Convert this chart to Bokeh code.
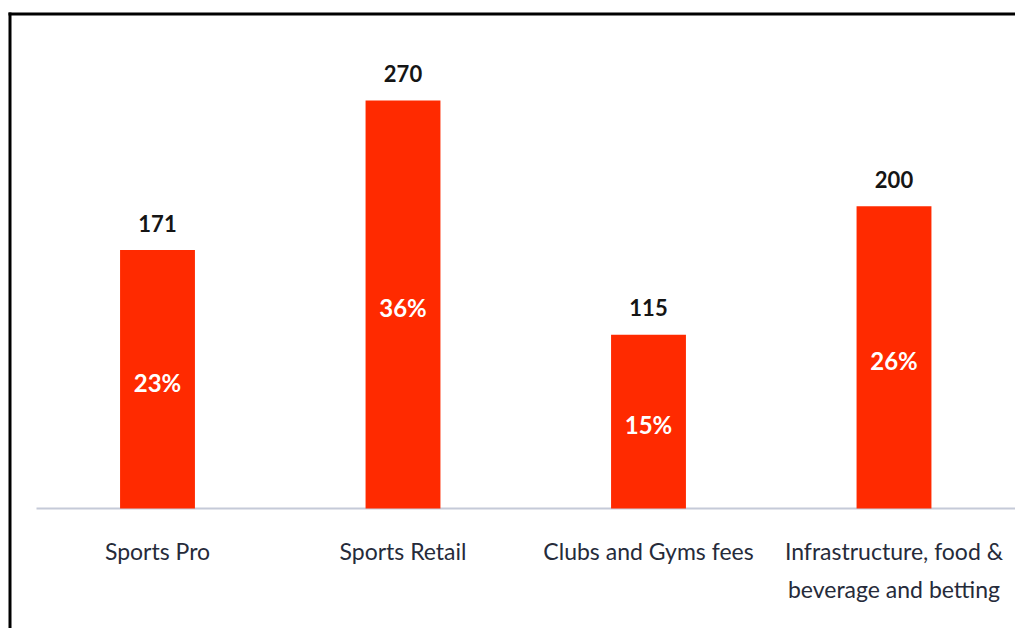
import numpy as np
from bokeh.plotting import figure
from bokeh.models import ColumnDataSource, Range1d
from bokeh.core.properties import value
from bokeh.embed import file_html
from bokeh.resources import INLINE

categories = ["Sports Pro", "Sports Retail", "Clubs and Gyms fees",
              "Infrastructure, food &\nbeverage and betting"]
values = [171, 270, 115, 200]
shares = [23, 36, 15, 26]

W, H = 1015, 628
px_per_cat = 245.5
first_center_px = 157.0
base_px = 508.0
px_per_unit = 1.511

x_start = 0.5 - first_center_px / px_per_cat
x_end = x_start + W / px_per_cat
y_end = base_px / px_per_unit
y_start = -(H - base_px) / px_per_unit

FONT = value("Lato")


def dx(px):
    return x_start + px / px_per_cat


def dy(py):
    return (base_px - py) / px_per_unit


xs = np.arange(len(categories)) + 0.5
src = ColumnDataSource(dict(
    x=xs, top=values, half=[v / 2 for v in values], cat=categories,
    val=[str(v) for v in values], pct=[f"{s}%" for s in shares],
    base=[0] * len(values)))

p = figure(width=W, height=H, x_range=Range1d(x_start, x_end),
           y_range=Range1d(y_start, y_end), output_backend="svg",
           toolbar_location=None, min_border=0,
           x_axis_location=None, y_axis_location=None)
p.grid.visible = False
p.outline_line_color = None
p.background_fill_color = "white"
p.border_fill_color = "white"

# frame border (decoration)
p.segment(x0=[dx(9.5), dx(8)], y0=[dy(12), dy(13.5)],
          x1=[dx(9.5), dx(W)], y1=[dy(H), dy(13.5)],
          line_color="black", line_width=3)

# baseline
p.segment(x0=[dx(36)], y0=[0], x1=[dx(W)], y1=[0],
          line_color="#C5CAD8", line_width=2)

p.vbar(x="x", top="top", bottom=0, width=0.305, source=src,
       fill_color="#FF2A00", line_color=None)

p.text(x="x", y="top", text="val", source=src, text_align="center",
       text_baseline="middle", y_offset=-27, text_font=FONT,
       text_font_style="bold", text_font_size="22px", text_color="#151515")

p.text(x="x", y="half", text="pct", source=src, text_align="center",
       text_baseline="middle", y_offset=3, text_font=FONT,
       text_font_style="bold", text_font_size="24px", text_color="white")

p.text(x="x", y="base", text="cat", source=src, text_align="center",
       text_baseline="top", y_offset=28, text_font=FONT,
       text_font_size="23px", text_color="#262B3A", text_line_height=1.38)

open("out.html", "w").write(file_html(p, INLINE))
